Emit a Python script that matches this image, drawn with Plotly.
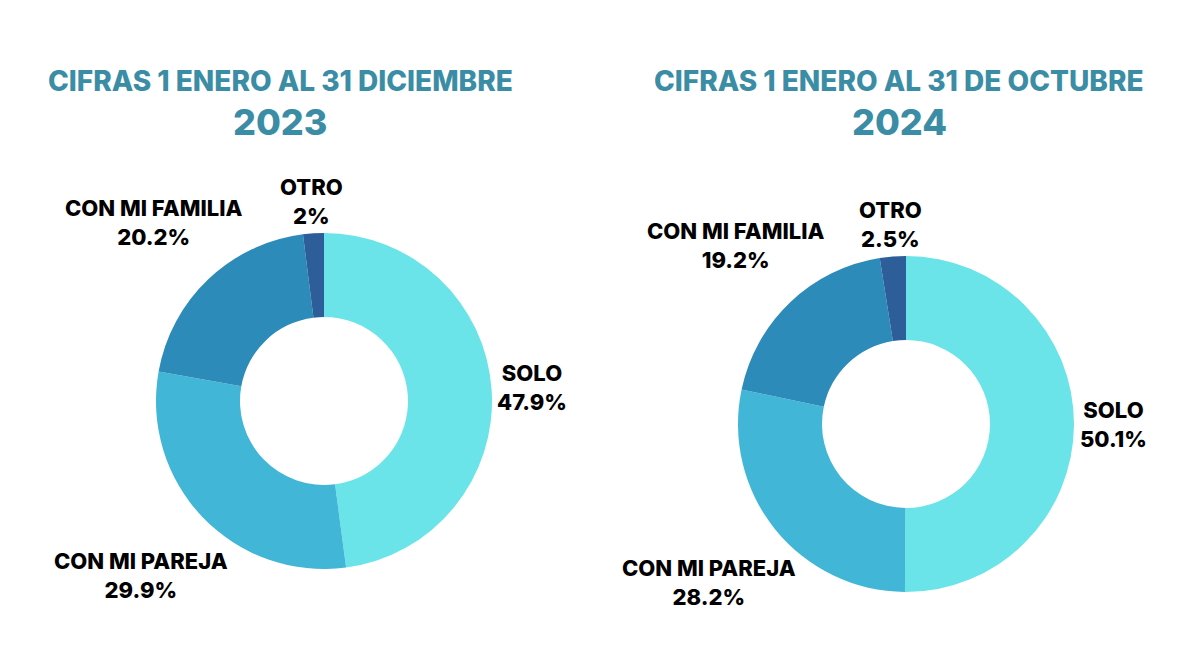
import math
import plotly.graph_objects as go

categories = ["SOLO", "CON MI PAREJA", "CON MI FAMILIA", "OTRO"]
values_2023 = [47.9, 29.9, 20.2, 2]
values_2024 = [50.1, 28.2, 19.2, 2.5]
colors = ["#6AE4E8", "#42B6D6", "#2D8BBA", "#2D5E9A"]
title_line = ["CIFRAS 1 ENERO AL 31 DICIEMBRE", "CIFRAS 1 ENERO AL 31 DE OCTUBRE"]
years = ["2023", "2024"]

# styling: distance (px) from pie centre to each label block centre
label_radius = [208, 253, 247, 200]

W, H = 1200, 660
OFF = 8  # page body margin
FONT = "Inter"
TITLE_COLOR = "#3A8DA5"
R = 168

def px(x):
    return (x - OFF) / W

def py(y):
    return 1 - (y - OFF) / H

def dom(cx, cy, r):
    return dict(x=[px(cx - r), px(cx + r)], y=[py(cy + r), py(cy - r)])

fig = go.Figure()
pies = [(values_2023, (324, 401)), (values_2024, (906, 424))]
for vals, (cx, cy) in pies:
    fig.add_trace(go.Pie(
        labels=categories, values=vals, sort=False, direction="clockwise", rotation=0,
        hole=0.5, marker=dict(colors=colors, line=dict(width=0)),
        textinfo="none", domain=dom(cx, cy, R), showlegend=False,
        hoverinfo="label+percent",
    ))
    total = sum(vals)
    cum = 0.0
    for cat, v, lr in zip(categories, vals, label_radius):
        mid = (cum + v / 2) / total * 2 * math.pi
        cum += v
        lx = cx + lr * math.sin(mid)
        ly = cy - lr * math.cos(mid)
        fig.add_annotation(x=px(lx), y=py(ly), xref="paper", yref="paper",
                           text=f"{cat}<br>{v:g}%", showarrow=False,
                           xanchor="center", yanchor="middle", align="center",
                           font=dict(family=FONT, size=22, color="#000000", weight=800))

for i, cx in enumerate([280, 899]):
    fig.add_annotation(x=px(cx), y=py(81), xref="paper", yref="paper", text=title_line[i],
                       xanchor="center", yanchor="middle",
                       showarrow=False, font=dict(family=FONT, size=28, color=TITLE_COLOR, weight=800))
    fig.add_annotation(x=px(cx), y=py(122), xref="paper", yref="paper", text=years[i],
                       xanchor="center", yanchor="middle",
                       showarrow=False, font=dict(family=FONT, size=36, color=TITLE_COLOR, weight=800))

fig.update_layout(width=W, height=H, margin=dict(l=0, r=0, t=0, b=0),
                  paper_bgcolor="white", plot_bgcolor="white")
fig.write_html("out.html")
